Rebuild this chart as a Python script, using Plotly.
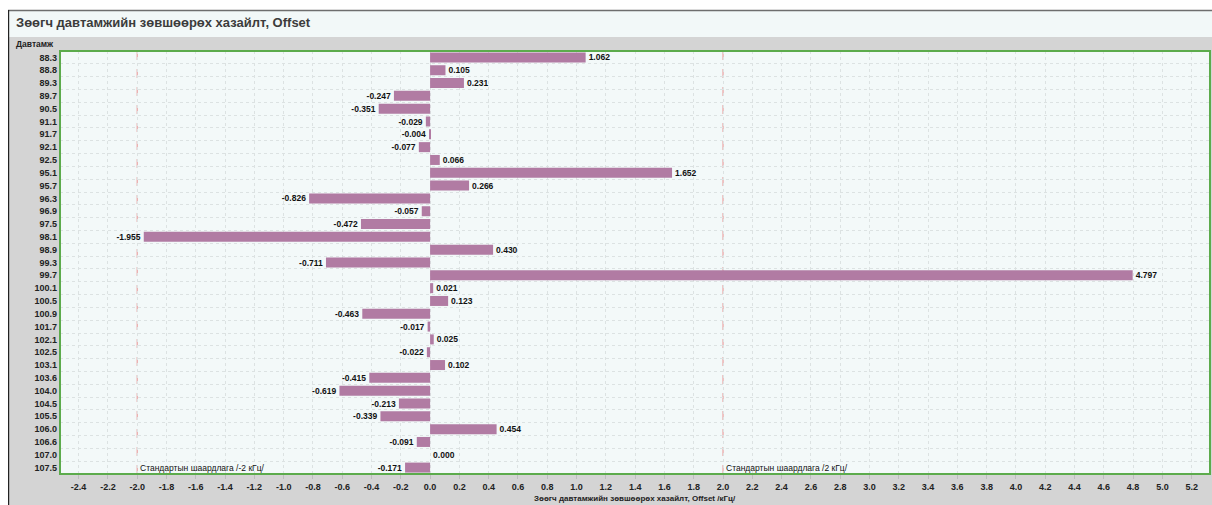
import plotly.graph_objects as go

frequencies = ["88.3", "88.8", "89.3", "89.7", "90.5", "91.1", "91.7", "92.1", "92.5",
               "95.1", "95.7", "96.3", "96.9", "97.5", "98.1", "98.9", "99.3", "99.7",
               "100.1", "100.5", "100.9", "101.7", "102.1", "102.5", "103.1", "103.6",
               "104.0", "104.5", "105.5", "106.0", "106.6", "107.0", "107.5"]
offsets = [1.062, 0.105, 0.231, -0.247, -0.351, -0.029, -0.004, -0.077, 0.066,
           1.652, 0.266, -0.826, -0.057, -0.472, -1.955, 0.430, -0.711, 4.797,
           0.021, 0.123, -0.463, -0.017, 0.025, -0.022, 0.102, -0.415,
           -0.619, -0.213, -0.339, 0.454, -0.091, 0.000, -0.171]
limits = [-2, 2]
limit_labels = ["Стандартын шаардлага /-2 кГц/", "Стандартын шаардлага /2 кГц/"]
x_ticks = [round(-2.4 + 0.2 * i, 1) for i in range(39)]

title_text = "Зөөгч давтамжийн зөвшөөрөх хазайлт, Offset"
x_title = "Зөөгч давтамжийн зөвшөөрөх хазайлт, Offset /кГц/"
y_title = "Давтамж"

OFF = 8  # page body margin
W, H = 1212 - OFF, 505 - OFF
FONT = "Liberation Sans, Arial, sans-serif"


def px(x):
    return (x - OFF) / W


def py(y):
    return 1 - (y - OFF) / H


n = len(frequencies)

fig = go.Figure()
fig.add_trace(go.Bar(
    y=frequencies, x=offsets, orientation="h",
    marker=dict(color="#b17ba3", line=dict(width=0)),
    texttemplate="%{x:.3f}", textposition="outside", constraintext="none",
    textfont=dict(family=FONT, size=8.5, color="#111111", weight="bold"),
    cliponaxis=False, hoverinfo="x+y",
))

shapes = [
    dict(type="rect", xref="paper", yref="paper", x0=0, x1=1, y0=py(10), y1=1,
         fillcolor="white", line=dict(width=0), layer="below"),
    dict(type="rect", xref="paper", yref="paper", x0=px(8), x1=1, y0=py(37), y1=py(11),
         fillcolor="#f2f8f8", line=dict(width=0), layer="below"),
    dict(type="line", xref="paper", yref="paper", x0=px(8), x1=1, y0=py(10.5), y1=py(10.5),
         line=dict(color="#6e6e6e", width=1.5), layer="below"),
    dict(type="line", xref="paper", yref="paper", x0=px(8.6), x1=px(8.6), y0=0, y1=py(10),
         line=dict(color="#222222", width=1.2), layer="below"),
]
for lim in limits:
    shapes.append(dict(type="line", xref="x", yref="y domain", x0=lim, x1=lim, y0=0, y1=1,
                       line=dict(color="#e89090", width=1, dash="dash"), layer="below"))
shapes.append(dict(type="rect", xref="x domain", yref="y domain", x0=0, x1=1, y0=0, y1=1,
                   line=dict(color="#5cab4c", width=2), layer="above"))

annotations = [
    dict(text=title_text, xref="paper", yref="paper", x=px(14), y=py(23),
         xanchor="left", yanchor="middle", showarrow=False,
         font=dict(family=FONT, size=13, color="#3c3c3c", weight="bold")),
    dict(text=y_title, xref="paper", yref="paper", x=px(56), y=py(44),
         xanchor="right", yanchor="middle", showarrow=False,
         font=dict(family=FONT, size=8.5, color="#222222", weight="bold")),
    dict(text=x_title, xref="paper", yref="paper", x=px(635), y=py(498),
         xanchor="center", yanchor="middle", showarrow=False,
         font=dict(family=FONT, size=8, color="#222222", weight="bold")),
]
for lim, lab in zip(limits, limit_labels):
    annotations.append(dict(text=lab, xref="x", yref="y", x=lim, y=n - 1,
                            xanchor="left", yanchor="middle", xshift=1, showarrow=False,
                            font=dict(family=FONT, size=8.5, color="#111111")))

fig.update_layout(
    width=W, height=H,
    margin=dict(l=0, r=0, t=0, b=0),
    paper_bgcolor="#d4d4d4",
    plot_bgcolor="#f3f9f9",
    bargap=0.22,
    showlegend=False,
    shapes=shapes,
    annotations=annotations,
    xaxis=dict(
        domain=[px(60), px(1210)],
        range=[-2.527, 5.325],
        tickmode="array", tickvals=x_ticks,
        ticktext=[f"{v:.1f}" for v in x_ticks],
        tickfont=dict(family=FONT, size=9, color="#222222", weight="bold"),
        ticks="outside", ticklen=4, tickcolor="#bdbdbd",
        showgrid=True, gridcolor="#dce2e2", griddash="dot", gridwidth=1,
        zeroline=False, showline=False, automargin=False,
    ),
    yaxis=dict(
        domain=[py(474), py(51)],
        type="category",
        categoryorder="array", categoryarray=frequencies,
        range=[n - 0.5, -0.5], autorange=False,
        tickson="boundaries", ticks="",
        tickfont=dict(family=FONT, size=9, color="#222222", weight="bold"),
        showgrid=True, gridcolor="#dce2e2", griddash="dot", gridwidth=1,
        zeroline=False, showline=False, automargin=False,
        ticklabelstandoff=2,
    ),
)

fig.write_html(
    "out.html",
    post_script="document.body.style.margin = '8px 0 0 8px'; document.body.style.overflow = 'hidden';",
)
